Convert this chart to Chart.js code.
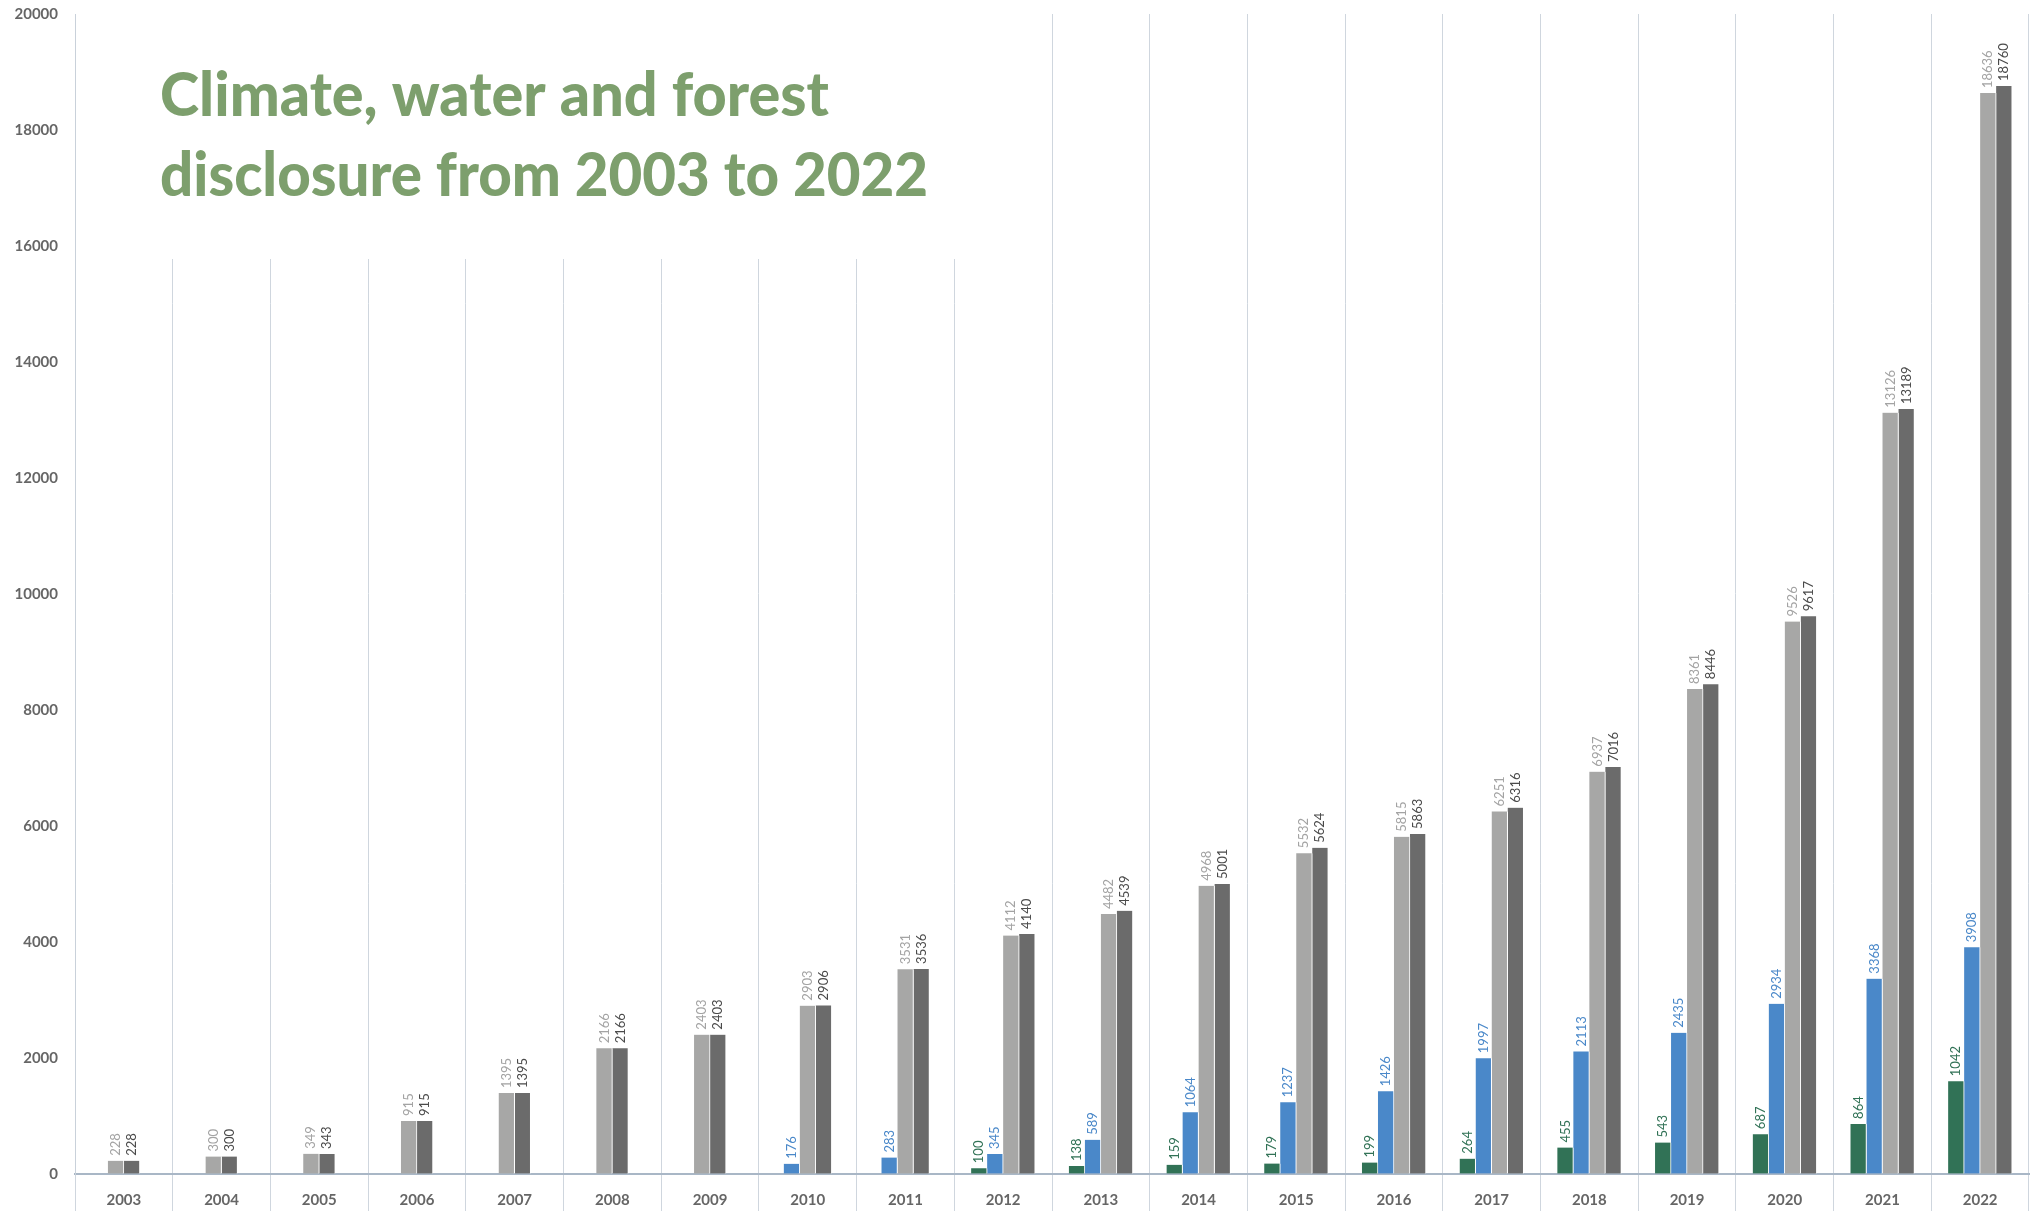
<!DOCTYPE html>
<html>
<head>
<meta charset="utf-8">
<title>Climate, water and forest disclosure</title>
<script src="https://cdn.jsdelivr.net/npm/chart.js@4.4.0/dist/chart.umd.min.js"></script>
<style>
  html, body { margin: 0; padding: 0; background: #ffffff; }
  #wrap { width: 2040px; height: 1211px; position: relative; }
</style>
</head>
<body>
<div id="wrap"><canvas id="chart"></canvas></div>
<script>
// categories
const years = ['2003', '2004', '2005', '2006', '2007', '2008', '2009', '2010', '2011', '2012',
               '2013', '2014', '2015', '2016', '2017', '2018', '2019', '2020', '2021', '2022'];

// series values (null = no bar that year)
const forest = [null, null, null, null, null, null, null, null, null, 100,
                138, 159, 179, 199, 264, 455, 543, 687, 864, 1600];
// the 2022 forest bar in the source is drawn taller than its printed label
const forestLabels = [null, null, null, null, null, null, null, null, null, '100',
                      '138', '159', '179', '199', '264', '455', '543', '687', '864', '1042'];
const water = [null, null, null, null, null, null, null, 176, 283, 345,
               589, 1064, 1237, 1426, 1997, 2113, 2435, 2934, 3368, 3908];
const climate = [228, 300, 349, 915, 1395, 2166, 2403, 2903, 3531, 4112,
                 4482, 4968, 5532, 5815, 6251, 6937, 8361, 9526, 13126, 18636];
const total = [228, 300, 343, 915, 1395, 2166, 2403, 2906, 3536, 4140,
               4539, 5001, 5624, 5863, 6316, 7016, 8446, 9617, 13189, 18760];

const titleLines = ['Climate, water and forest', 'disclosure from 2003 to 2022'];

const FONT = 'Lato, "Open Sans", "DejaVu Sans", sans-serif';

function makeSet(label, data, color, labelColor, labelText) {
    return {
        label: label,
        data: data,
        backgroundColor: color,
        borderColor: '#ffffff',
        borderWidth: { top: 0, right: 1, bottom: 0, left: 0 },
        borderSkipped: false,
        barThickness: 16,
        skipNull: true,
        labelColor: labelColor,
        labelText: labelText
    };
}

// rotated value labels above each bar
const valueLabels = {
    id: 'valueLabels',
    afterDatasetsDraw(chart) {
        const ctx = chart.ctx;
        ctx.save();
        ctx.font = '13px ' + FONT;
        ctx.textAlign = 'left';
        ctx.textBaseline = 'middle';
        chart.data.datasets.forEach((ds, i) => {
            const meta = chart.getDatasetMeta(i);
            meta.data.forEach((bar, j) => {
                const v = ds.data[j];
                if (v === null || v === undefined) return;
                const txt = ds.labelText ? ds.labelText[j] : String(v);
                ctx.save();
                ctx.fillStyle = ds.labelColor;
                ctx.translate(bar.x, bar.y - 5);
                ctx.rotate(-Math.PI / 2);
                ctx.fillText(txt, 0, 0);
                ctx.restore();
            });
        });
        ctx.restore();
    }
};

// title sits over a white block that hides the upper grid lines
const titleBlock = {
    id: 'titleBlock',
    beforeDatasetsDraw(chart) {
        const ctx = chart.ctx;
        const a = chart.chartArea;
        ctx.save();
        ctx.fillStyle = '#ffffff';
        ctx.fillRect(a.left + 1.5, 0, 1000 - a.left, 259);
        ctx.restore();
    },
    afterDraw(chart) {
        const ctx = chart.ctx;
        ctx.save();
        ctx.fillStyle = '#7d9f6d';
        ctx.font = '900 60px ' + FONT;
        ctx.textAlign = 'left';
        ctx.textBaseline = 'alphabetic';
        ctx.fillText(titleLines[0], 160, 116, 669);
        ctx.fillText(titleLines[1], 160, 196, 768);
        ctx.restore();
    }
};

const ctx = document.getElementById('chart').getContext('2d');
const chart = new Chart(ctx, {
    type: 'bar',
    data: {
        labels: years,
        datasets: [
            makeSet('Forests', forest, '#317256', '#317256', forestLabels),
            makeSet('Water security', water, '#4a88c9', '#4a88c9'),
            makeSet('Climate change', climate, '#a7a7a6', '#a3a3a3'),
            makeSet('Total', total, '#6b6b6b', '#4a4a4a')
        ]
    },
    options: {
        responsive: true,
        maintainAspectRatio: false,
        animation: false,
        layout: {
            padding: { top: 2, right: 11, bottom: 0, left: 0 }
        },
        plugins: {
            legend: { display: false },
            tooltip: { enabled: false }
        },
        scales: {
            x: {
                offset: true,
                grid: {
                    display: true,
                    offset: true,
                    color: '#cfd6de',
                    lineWidth: 1,
                    drawTicks: true,
                    tickLength: 37,
                    tickColor: '#cfd6de'
                },
                border: {
                    display: true,
                    color: '#a9b7c6',
                    width: 2
                },
                ticks: {
                    font: { size: 15, weight: 'bold', family: FONT },
                    color: '#666666',
                    padding: -20,
                    maxRotation: 0,
                    autoSkip: false
                },
                afterFit(scale) { scale.height = 37; }
            },
            y: {
                min: 0,
                max: 20000,
                grid: {
                    display: true,
                    drawOnChartArea: false,
                    color: 'rgba(0,0,0,0)',
                    drawTicks: true,
                    tickLength: 12,
                    tickColor: 'rgba(0,0,0,0)'
                },
                border: {
                    display: true,
                    color: '#c9d1da',
                    width: 1
                },
                ticks: {
                    stepSize: 2000,
                    font: { size: 15, weight: 'bold', family: FONT },
                    color: '#666666',
                    padding: 5,
                    callback: v => String(v)
                },
                afterFit(scale) { scale.width = 75; }
            }
        }
    },
    plugins: [titleBlock, valueLabels]
});
</script>
</body>
</html>
